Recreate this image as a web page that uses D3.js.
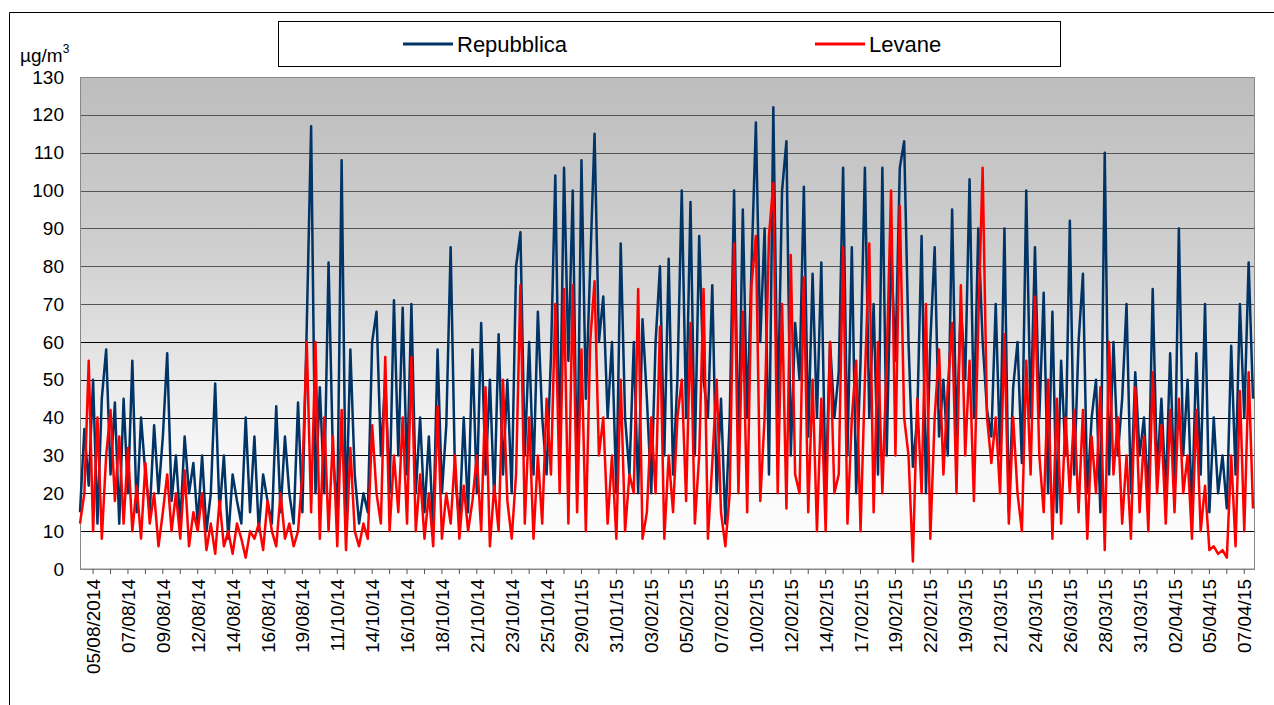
<!DOCTYPE html>
<html>
<head>
<meta charset="utf-8">
<script src="https://cdn.jsdelivr.net/npm/d3@7"></script>
<style>
  body { margin: 0; background: #fff; }
  text { font-family: "Liberation Sans", Arial, sans-serif; }
</style>
</head>
<body>
<script>
const dateLabels = ['05/08/2014', '07/08/14', '09/08/14', '12/08/14', '14/08/14', '16/08/14', '19/08/14',
  '11/10/14', '14/10/14', '16/10/14', '18/10/14', '21/10/14', '23/10/14', '25/10/14', '29/01/15',
  '31/01/15', '03/02/15', '05/02/15', '07/02/15', '10/02/15', '12/02/15', '14/02/15', '17/02/15',
  '19/02/15', '22/02/15', '19/03/15', '21/03/15', '24/03/15', '26/03/15', '28/03/15', '31/03/15',
  '02/04/15', '05/04/15', '07/04/15'];

const repubblica = [
  15,37,22,50,12,45,58,25,44,12, 45,20,55,15,40,25,15,38,20,35,
  57,18,30,12,35,20,28,12,30,10, 20,49,15,30,8,25,18,12,40,15,
  35,10,25,18,12,43,15,35,20,12, 44,15,64,117,20,48,20,81,30,15,
  108,12,58,25,12,20,15,60,68,30, 50,20,71,30,69,25,70,20,40,15,
  35,10,58,20,38,85,25,12,40,15, 58,20,65,25,50,18,62,25,50,20,
  80,89,30,60,25,68,40,25,56,104, 30,106,55,100,20,108,45,80,115,60,
  72,40,60,20,86,40,25,60,20,66, 45,20,60,80,30,82,25,50,100,40,
  97,30,88,50,40,75,20,45,12,40, 100,30,95,40,80,118,60,90,25,122,
  40,100,113,30,65,50,101,35,78,40, 81,20,60,40,52,106,30,85,20,55,
  106,40,70,25,106,30,85,55,106,113, 60,27,40,88,20,60,85,35,50,30,
  95,35,70,50,103,40,90,60,42,35, 70,30,90,15,48,60,28,100,40,85,
  40,73,20,68,15,55,30,92,25,60, 78,20,40,50,15,110,25,60,30,45,
  70,20,52,30,40,18,74,25,45,20, 57,20,90,30,50,15,57,25,70,15,
  40,20,30,16,59,25,70,40,81,45
];

const levane = [
  12,20,55,10,40,8,30,42,18,35, 12,32,10,22,8,28,12,20,6,15,
  25,10,20,8,26,6,15,10,20,5, 12,4,18,6,10,4,12,8,3,10,
  8,12,5,18,10,6,20,8,12,6, 10,25,60,15,60,8,40,10,35,6,
  42,5,32,10,6,12,8,38,20,12, 56,10,30,15,40,12,56,10,25,8,
  20,6,43,8,20,12,30,8,22,10, 18,30,10,48,6,22,10,50,18,8,
  25,75,12,40,8,30,12,45,25,70, 20,74,12,75,15,58,10,60,76,30,
  40,12,30,8,50,10,25,20,74,8, 15,40,20,64,8,30,15,40,50,18,
  65,12,30,74,8,28,50,15,6,20, 86,20,68,15,75,88,18,40,88,102,
  20,70,16,83,25,20,77,15,50,10, 45,10,60,20,25,85,12,40,55,10,
  50,86,15,60,20,55,100,30,96,40, 30,2,45,20,70,8,40,58,25,48,
  65,20,75,30,55,18,65,106,40,28, 40,20,62,12,40,20,10,55,25,72,
  30,15,50,8,45,12,40,20,42,15, 42,8,35,20,48,5,60,25,40,12,
  30,8,48,15,35,10,52,20,38,12, 42,15,45,20,30,8,42,10,22,5,
  6,4,5,3,30,6,47,10,52,16
];

const yTicks = d3.range(0, 131, 10);
const labelStep = 8, labelStart = 3;

const W = 1274, H = 705;
const plotLeft = 80, plotRight = 1255, plotTop = 77, plotBottom = 569;

const svg = d3.select('body').append('svg').attr('width', W).attr('height', H);

// outer frame
svg.append('path').attr('d', `M9.5 ${H} V12.5 H${W}`).attr('fill', 'none').attr('stroke', '#000');

const defs = svg.append('defs');
const grad = defs.append('linearGradient').attr('id', 'bg').attr('x1', 0).attr('y1', 0).attr('x2', 0).attr('y2', 1);
grad.append('stop').attr('offset', '0%').attr('stop-color', '#bdbdbd');
grad.append('stop').attr('offset', '35%').attr('stop-color', '#cfcfcf');
grad.append('stop').attr('offset', '75%').attr('stop-color', '#f6f6f6');
grad.append('stop').attr('offset', '100%').attr('stop-color', '#ffffff');

const x = d3.scaleLinear().domain([0, repubblica.length - 1]).range([plotLeft, plotRight - 2]);
const y = d3.scaleLinear().domain([0, 130]).range([plotBottom, plotTop]);

svg.append('rect').attr('x', plotLeft).attr('y', plotTop)
  .attr('width', plotRight - plotLeft).attr('height', plotBottom - plotTop)
  .attr('fill', 'url(#bg)');

// grid
svg.append('g').selectAll('line').data(yTicks.slice(1)).join('line')
  .attr('x1', plotLeft).attr('x2', plotRight)
  .attr('y1', d => Math.round(y(d)) + 0.5).attr('y2', d => Math.round(y(d)) + 0.5)
  .attr('stroke', d => d >= 70 ? '#555' : '#000').attr('stroke-width', 1);

// plot border
svg.append('rect').attr('x', plotLeft + 0.5).attr('y', plotTop + 0.5)
  .attr('width', plotRight - plotLeft - 1).attr('height', plotBottom - plotTop)
  .attr('fill', 'none').attr('stroke', '#888');

// y axis
const yAxis = svg.append('g').attr('transform', `translate(${plotLeft},0)`)
  .call(d3.axisLeft(y).tickValues(yTicks).tickSize(0).tickPadding(16));
yAxis.select('.domain').remove();
yAxis.selectAll('text').attr('font-size', 19).attr('fill', '#000')
  .attr('font-family', '"Liberation Sans", Arial, sans-serif');

// x axis
const tickIdx = d3.range(labelStart % 4, repubblica.length, 4);
const xAxis = svg.append('g').attr('transform', `translate(0,${plotBottom})`);
xAxis.append('line').attr('x1', plotLeft).attr('x2', plotRight).attr('stroke', '#888');
xAxis.selectAll('line.t').data(tickIdx).join('line').attr('class', 't')
  .attr('x1', d => x(d)).attr('x2', d => x(d)).attr('y1', 0).attr('y2', 5).attr('stroke', '#555');
xAxis.selectAll('text').data(dateLabels).join('text')
  .attr('transform', (d, i) => `translate(${x(labelStart + i * labelStep) + 7},10) rotate(-90)`)
  .attr('text-anchor', 'end').attr('font-size', 19).text(d => d);

// lines
const line = d3.line().x((d, i) => x(i)).y(d => y(d));
svg.append('path').datum(repubblica).attr('d', line).attr('fill', 'none')
  .attr('stroke', '#003366').attr('stroke-width', 2.5).attr('stroke-linejoin', 'round');
svg.append('path').datum(levane).attr('d', line).attr('fill', 'none')
  .attr('stroke', '#ff0000').attr('stroke-width', 2.5).attr('stroke-linejoin', 'round');

// unit label
svg.append('text').attr('x', 20).attr('y', 62).attr('font-size', 19)
  .html('µg/m<tspan dy="-9" font-size="12">3</tspan>');

// legend
const lg = svg.append('g');
lg.append('rect').attr('x', 278.5).attr('y', 21.5).attr('width', 782).attr('height', 45)
  .attr('fill', '#fff').attr('stroke', '#000');
const legendItems = [{ name: 'Repubblica', color: '#003366', x: 403 }, { name: 'Levane', color: '#ff0000', x: 815 }];
legendItems.forEach(d => {
  lg.append('line').attr('x1', d.x).attr('x2', d.x + 50).attr('y1', 44).attr('y2', 44)
    .attr('stroke', d.color).attr('stroke-width', 3);
  lg.append('text').attr('x', d.x + 54).attr('y', 52).attr('font-size', 22).text(d.name);
});
</script>
</body>
</html>
